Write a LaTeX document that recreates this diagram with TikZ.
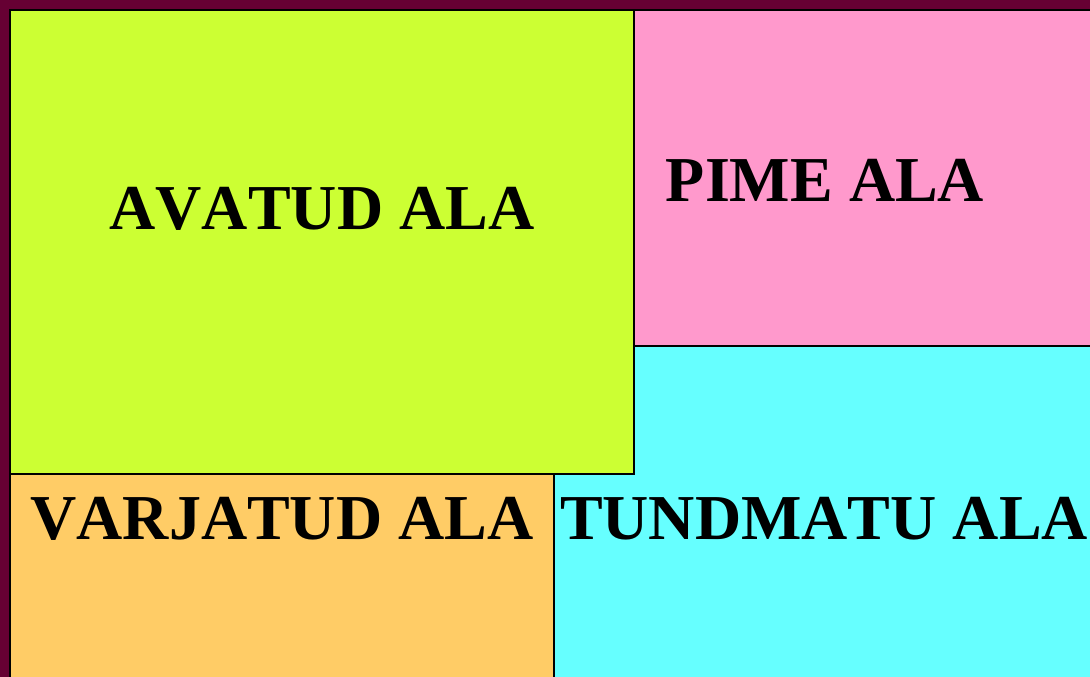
\documentclass[tikz,border=0pt]{standalone}
\usepackage{fontspec}
\setmainfont[Kerning=Off]{Liberation Serif}
\definecolor{maroon}{HTML}{660033}
\definecolor{avatud}{HTML}{CCFF33}
\definecolor{pime}{HTML}{FF99CC}
\definecolor{varjatud}{HTML}{FFCC66}
\definecolor{tundmatu}{HTML}{66FFFF}
\tikzset{
	ala/.style={draw=black, line width=1.6pt},
	silt/.style={anchor=base, inner sep=0pt, font=\fontsize{64}{64}\selectfont\bfseries}
}
\begin{document}
\begin{tikzpicture}[x=1pt, y=-1pt]
	\fill[maroon] (0,0) rectangle (1090,677);
	\useasboundingbox (0,0) rectangle (1090,677);
	\filldraw[ala, fill=tundmatu] (554,346) rectangle (1095,682);
	\filldraw[ala, fill=pime] (634,10) rectangle (1095,346);
	\filldraw[ala, fill=varjatud] (10,474) rectangle (554,682);
	\filldraw[ala, fill=avatud] (10,10) rectangle (634,474);
	\node[silt] (avatud) at (322,229) {AVATUD ALA};
	\node[silt] (pime) at (825,201) {PIME ALA};
	\node[silt] (varjatud) at (282,539) {VARJATUD ALA};
	\node[silt] (tundmatu) at (824,539) {TUNDMATU ALA};
\end{tikzpicture}
\end{document}
